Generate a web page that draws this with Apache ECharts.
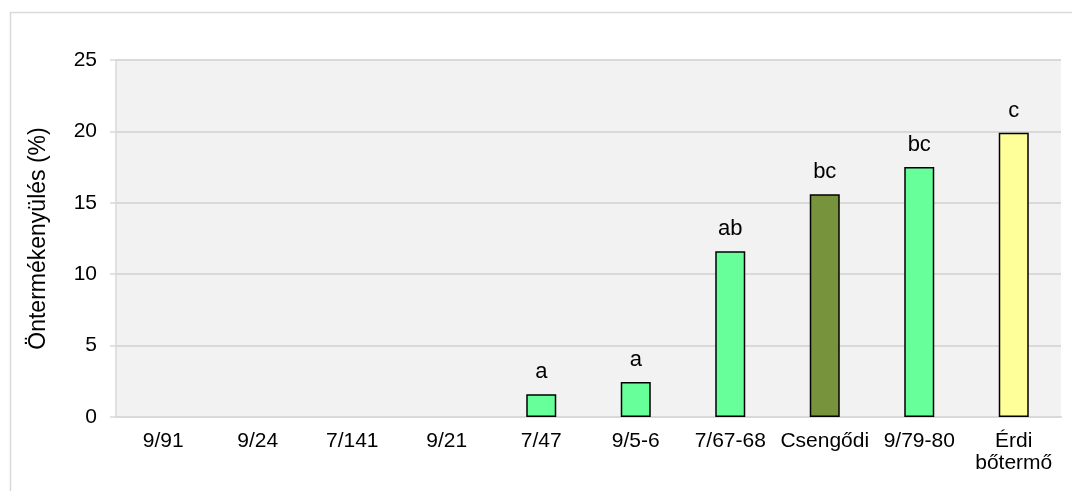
<!DOCTYPE html>
<html>
<head>
    <meta charset="utf-8">
    <title>Öntermékenyülés</title>
    <script src="https://cdn.jsdelivr.net/npm/echarts@6/dist/echarts.min.js"></script>
    <style>
        html, body { margin: 0; padding: 0; background: #fff; }
        #main { width: 1072px; height: 491px; }
    </style>
</head>
<body>
<div id="main"></div>
<script>
    var categories = ['9/91', '9/24', '7/141', '9/21', '7/47', '9/5-6', '7/67-68', 'Csengődi', '9/79-80', 'Érdi\nbőtermő'];
    var values = [0, 0, 0, 0, 1.6, 2.45, 11.6, 15.6, 17.5, 19.9];
    var letters = ['', '', '', '', 'a', 'a', 'ab', 'bc', 'bc', 'c'];
    var barColors = ['#66FF99', '#66FF99', '#66FF99', '#66FF99', '#66FF99', '#66FF99', '#66FF99', '#77933C', '#66FF99', '#FFFF99'];
    var yTicks = [0, 5, 10, 15, 20, 25];

    var font = 'Liberation Sans, Arial, sans-serif';

    var barData = [];
    for (var i = 0; i < values.length; i++) {
        barData.push({
            value: values[i],
            itemStyle: {
                color: barColors[i],
                borderColor: '#000',
                borderWidth: values[i] > 0 ? 1.5 : 0
            },
            label: { formatter: letters[i] }
        });
    }

    var chart = echarts.init(document.getElementById('main'));
    chart.setOption({
        animation: false,
        textStyle: { fontFamily: font },
        graphic: [{
            type: 'rect',
            shape: { x: 10.5, y: 12.5, width: 1100, height: 600 },
            style: { fill: 'none', stroke: '#d9d9d9', lineWidth: 1.5 },
            silent: true
        }],
        grid: {
            left: 116, right: 11, top: 60, bottom: 74,
            show: true, backgroundColor: '#f2f2f2', borderWidth: 0
        },
        xAxis: {
            type: 'category',
            data: categories,
            axisLine: { lineStyle: { color: '#d9d9d9', width: 2 } },
            axisTick: { show: false },
            axisLabel: { color: '#000', fontSize: 21, margin: 13, lineHeight: 22, fontFamily: font, interval: 0 }
        },
        yAxis: {
            type: 'value',
            min: yTicks[0],
            max: yTicks[yTicks.length - 1],
            interval: 5,
            name: 'Öntermékenyülés (%)',
            nameLocation: 'middle',
            nameGap: 66,
            nameTextStyle: { color: '#000', fontSize: 23, fontFamily: font },
            axisLine: { show: true, lineStyle: { color: '#d9d9d9', width: 1.5 } },
            axisTick: { show: true, length: 6, lineStyle: { color: '#d9d9d9', width: 1.5 } },
            splitLine: { lineStyle: { color: '#d9d9d9', width: 2 } },
            axisLabel: { color: '#000', fontSize: 21, margin: 19, fontFamily: font }
        },
        series: [{
            type: 'bar',
            data: barData,
            barWidth: 30,
            label: {
                show: true,
                position: 'top',
                distance: 11,
                color: '#000',
                fontSize: 22,
                fontFamily: font
            }
        }]
    });
</script>
</body>
</html>
